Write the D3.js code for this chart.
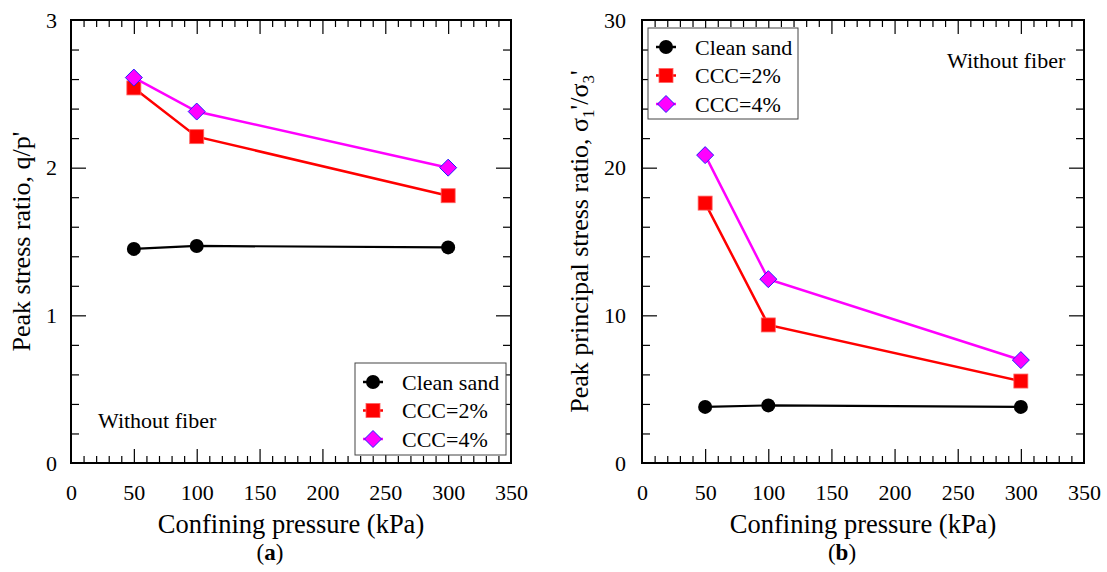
<!DOCTYPE html>
<html>
<head>
<meta charset="utf-8">
<script src="https://cdn.jsdelivr.net/npm/d3@7"></script>
<style>
  body { margin: 0; background: #fff; }
  svg text { font-family: "Liberation Serif", "DejaVu Serif", serif !important; fill: #000; }
</style>
</head>
<body>
<div id="chart"></div>
<script>
// data
var pressure = [50, 100, 300];
var xMajor = [0, 50, 100, 150, 200, 250, 300, 350];
var seriesNames = ["Clean sand", "CCC=2%", "CCC=4%"];

var qpClean = [1.45, 1.47, 1.46];
var qpCCC2 = [2.54, 2.21, 1.81];
var qpCCC4 = [2.61, 2.38, 2.00];
var qpTicks = [0, 1, 2, 3];

var psClean = [3.8, 3.9, 3.8];
var psCCC2 = [17.6, 9.35, 5.55];
var psCCC4 = [20.85, 12.45, 6.97];
var psTicks = [0, 10, 20, 30];

var width = 1107, height = 572;
var svg = d3.select("#chart").append("svg")
  .attr("width", width).attr("height", height);

var styles = [
  { color: "#000", shape: "circle" },
  { color: "#ff0000", shape: "square" },
  { color: "#ff00ff", shape: "diamond" }
];

function drawMarker(g, shape, x, y) {
  if (shape == "circle") {
    g.append("circle").attr("cx", x).attr("cy", y).attr("r", 7).attr("fill", "#000");
  } else if (shape == "square") {
    g.append("rect").attr("x", x - 7).attr("y", y - 7).attr("width", 14).attr("height", 14)
      .attr("fill", "#ff0000").attr("stroke", "#ff6060").attr("stroke-width", 0.8);
  } else {
    var s = 8.5;
    g.append("path").attr("d", "M" + x + "," + (y - s) + "L" + (x + s) + "," + y + "L" + x + "," + (y + s) + "L" + (x - s) + "," + y + "Z")
      .attr("fill", "#ff00ff").attr("stroke", "#2020ff").attr("stroke-width", 1);
  }
}

function drawPanel(opt) {
  var g = svg.append("g");
  var x = d3.scaleLinear().domain([0, 350]).range([opt.left, opt.right]);
  var y = d3.scaleLinear().domain([0, opt.ymax]).range([opt.bottom, opt.top]);
  var xMinor = d3.range(0, 351, 10).filter(function(v) { return v % 50 != 0; });
  var yMinor = d3.range(0, opt.ymax + 0.001, opt.ymax / 15).filter(function(v, i) { return i % 5 != 0; });

  // ticks, all sides, pointing inward
  function tickAxis(axisFn, scale, vals, len, tr) {
    var a = g.append("g").attr("transform", tr)
      .call(axisFn(scale).tickValues(vals).tickSize(-len).tickFormat(""));
    a.select(".domain").remove();
    a.selectAll("line").attr("stroke", "#000").attr("stroke-width", 1.2);
  }
  var bt = "translate(0," + opt.bottom + ")", tp = "translate(0," + opt.top + ")";
  var lf = "translate(" + opt.left + ",0)", rt = "translate(" + opt.right + ",0)";
  tickAxis(d3.axisBottom, x, xMajor.slice(1, -1), 14, bt);
  tickAxis(d3.axisBottom, x, xMinor, 7, bt);
  tickAxis(d3.axisTop, x, xMajor.slice(1, -1), 14, tp);
  tickAxis(d3.axisTop, x, xMinor, 7, tp);
  tickAxis(d3.axisLeft, y, opt.ticks.slice(1, -1), 15, lf);
  tickAxis(d3.axisLeft, y, yMinor, 8, lf);
  tickAxis(d3.axisRight, y, opt.ticks.slice(1, -1), 15, rt);
  tickAxis(d3.axisRight, y, yMinor, 8, rt);

  // frame
  g.append("rect").attr("x", opt.left).attr("y", opt.top)
    .attr("width", opt.right - opt.left).attr("height", opt.bottom - opt.top)
    .attr("fill", "none").attr("stroke", "#000").attr("stroke-width", 2);

  // tick labels
  var xl = g.append("g").attr("transform", "translate(0," + opt.bottom + ")")
    .call(d3.axisBottom(x).tickValues(xMajor).tickSize(0).tickPadding(21).tickFormat(d3.format("d")));
  xl.select(".domain").remove();
  xl.selectAll("text").attr("font-size", 22);
  var yl = g.append("g").attr("transform", "translate(" + opt.left + ",0)")
    .call(d3.axisLeft(y).tickValues(opt.ticks).tickSize(0).tickPadding(opt.tickPad).tickFormat(d3.format("d")));
  yl.select(".domain").remove();
  yl.selectAll("text").attr("font-size", 22);

  // series
  var line = d3.line().x(function(d) { return x(d[0]); }).y(function(d) { return y(d[1]); });
  opt.series.forEach(function(vals, i) {
    var pts = pressure.map(function(p, j) { return [p, vals[j]]; });
    g.append("path").attr("d", line(pts)).attr("fill", "none")
      .attr("stroke", styles[i].color).attr("stroke-width", i == 0 ? 2.2 : 2.5);
    pts.forEach(function(p) { drawMarker(g, styles[i].shape, x(p[0]), y(p[1])); });
  });

  // legend
  var L = opt.legend;
  g.append("rect").attr("x", L.x).attr("y", L.y).attr("width", L.w).attr("height", L.h)
    .attr("fill", "#fff").attr("stroke", "#444").attr("stroke-width", 1);
  seriesNames.forEach(function(name, i) {
    var ry = L.y + 19 + i * 28.5;
    var mx = L.x + 18;
    g.append("line").attr("x1", mx - 10).attr("x2", mx + 10).attr("y1", ry).attr("y2", ry)
      .attr("stroke", styles[i].color).attr("stroke-width", 2.5);
    drawMarker(g, styles[i].shape, mx, ry);
    g.append("text").attr("x", L.x + 47).attr("y", ry + 7.5).attr("font-size", 22).text(name);
  });

  // annotation
  g.append("text").attr("x", opt.note[0]).attr("y", opt.note[1]).attr("font-size", 22).text("Without fiber");

  // x label
  var cx = (opt.left + opt.right) / 2;
  g.append("text").attr("x", cx).attr("y", 533).attr("text-anchor", "middle")
    .attr("font-size", 26.5).text("Confining pressure (kPa)");
  var cap = g.append("text").attr("x", cx - 21).attr("y", 560).attr("text-anchor", "middle").attr("font-size", 23);
  cap.append("tspan").text("(");
  cap.append("tspan").attr("font-weight", "bold").text(opt.letter);
  cap.append("tspan").text(")");

  // y label
  var yt = g.append("text").attr("transform", "translate(" + opt.ylabX + "," + ((opt.top + opt.bottom) / 2) + ") rotate(-90)")
    .attr("text-anchor", "middle").attr("font-size", 26);
  opt.ylab(yt);
}

drawPanel({
  left: 71, right: 511, top: 20, bottom: 463, ymax: 3, ticks: qpTicks, tickPad: 14,
  series: [qpClean, qpCCC2, qpCCC4],
  legend: { x: 355, y: 363, w: 151, h: 92 },
  note: [98, 428], letter: "a", ylabX: 30,
  ylab: function(t) { t.text("Peak stress ratio, q/p'"); }
});

drawPanel({
  left: 642, right: 1084, top: 20, bottom: 463, ymax: 30, ticks: psTicks, tickPad: 16,
  series: [psClean, psCCC2, psCCC4],
  legend: { x: 648, y: 28, w: 150, h: 91 },
  note: [947, 68], letter: "b", ylabX: 588,
  ylab: function(t) {
    t.append("tspan").text("Peak principal stress ratio, σ");
    t.append("tspan").attr("font-size", 17).attr("dy", 6).text("1");
    t.append("tspan").attr("dy", -6).text("'/σ");
    t.append("tspan").attr("font-size", 17).attr("dy", 6).text("3");
    t.append("tspan").attr("dy", -6).text("'");
  }
});
</script>
</body>
</html>
